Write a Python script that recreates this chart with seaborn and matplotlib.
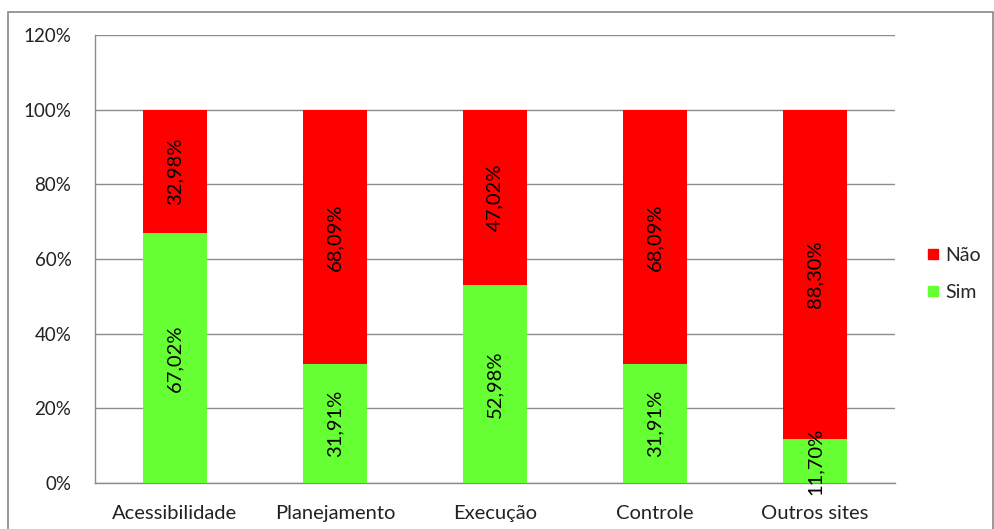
import matplotlib
matplotlib.use('Agg')
import matplotlib.pyplot as plt
import seaborn as sns
import pandas as pd
from matplotlib.lines import Line2D
from matplotlib.patches import Rectangle

# ── data ────────────────────────────────────────────────────────────────
categories = ["Acessibilidade", "Planejamento", "Execução", "Controle", "Outros sites"]
sim = [67.02, 31.91, 52.98, 31.91, 11.70]
nao = [32.98, 68.09, 47.02, 68.09, 88.30]
y_ticks = [0, 20, 40, 60, 80, 100, 120]

RED = "#FF0000"
GREEN = "#66FF33"
GRID = "#8C8C8C"

df = pd.DataFrame({"cat": categories, "sim": sim, "nao": nao})
df["total"] = df["sim"] + df["nao"]

sns.set_style("white")
plt.rcParams["font.family"] = ["Lato", "DejaVu Sans"]

fig = plt.figure(figsize=(9.95, 5.29), dpi=100)
ax = fig.add_axes([95 / 995, 1 - 483 / 529, 800 / 995, 448 / 529])

# stacked: red total behind, green Sim in front
sns.barplot(data=df, x="cat", y="total", color=RED, width=0.395,
            saturation=1, linewidth=0, ax=ax, zorder=2)
sns.barplot(data=df, x="cat", y="sim", color=GREEN, width=0.395,
            saturation=1, linewidth=0, ax=ax, zorder=3)

# value labels (rotated, centred in each segment)
for i, (s, n) in enumerate(zip(sim, nao)):
    ax.text(i, s / 2, f"{s:.2f}%".replace(".", ","), rotation=90,
            ha="center", va="center", fontsize=14.5, color="black", zorder=5)
    ax.text(i, s + n / 2, f"{n:.2f}%".replace(".", ","), rotation=90,
            ha="center", va="center", fontsize=14.5, color="black", zorder=5)

# axes styling
ax.set_ylim(0, 120)
ax.set_xlim(-0.5, len(categories) - 0.5)
ax.set_yticks(y_ticks)
ax.set_yticklabels([f"{t}%" for t in y_ticks], fontsize=13.5, color="#222222")
ax.yaxis.grid(True, color=GRID, linewidth=1, zorder=0)
ax.set_axisbelow(True)
ax.set_xlabel("")
ax.set_ylabel("")
ax.tick_params(axis="x", which="major", length=0, labelsize=14.5,
               labelcolor="#222222", pad=16)
ax.set_xticks([i - 0.5 for i in range(len(categories) + 1)], minor=True)
ax.tick_params(axis="x", which="minor", length=6, color=GRID, width=1)
ax.tick_params(axis="y", length=7, color=GRID, width=1, pad=10)
for side in ["top", "right"]:
    ax.spines[side].set_visible(False)
for side in ["left", "bottom"]:
    ax.spines[side].set_color(GRID)
    ax.spines[side].set_linewidth(1)

# legend
handles = [Line2D([], [], marker="s", linestyle="", markersize=7,
                  markerfacecolor=RED, markeredgecolor=RED, label="Não"),
           Line2D([], [], marker="s", linestyle="", markersize=7,
                  markerfacecolor=GREEN, markeredgecolor=GREEN, label="Sim")]
fig.legend(handles=handles, loc="center left", bbox_to_anchor=(918 / 995, 1 - 274 / 529),
           frameon=False, fontsize=14, handlelength=0.7, handletextpad=0.3,
           labelspacing=1.0, borderaxespad=0)

# outer frame
fig.patches.append(Rectangle((8 / 995, -0.02), 1 - 10 / 995, 1 - 12 / 529 + 0.02,
                             transform=fig.transFigure, fill=False,
                             edgecolor="#888888", linewidth=1.2))

fig.savefig("out.png", dpi=100)
plt.close(fig)
